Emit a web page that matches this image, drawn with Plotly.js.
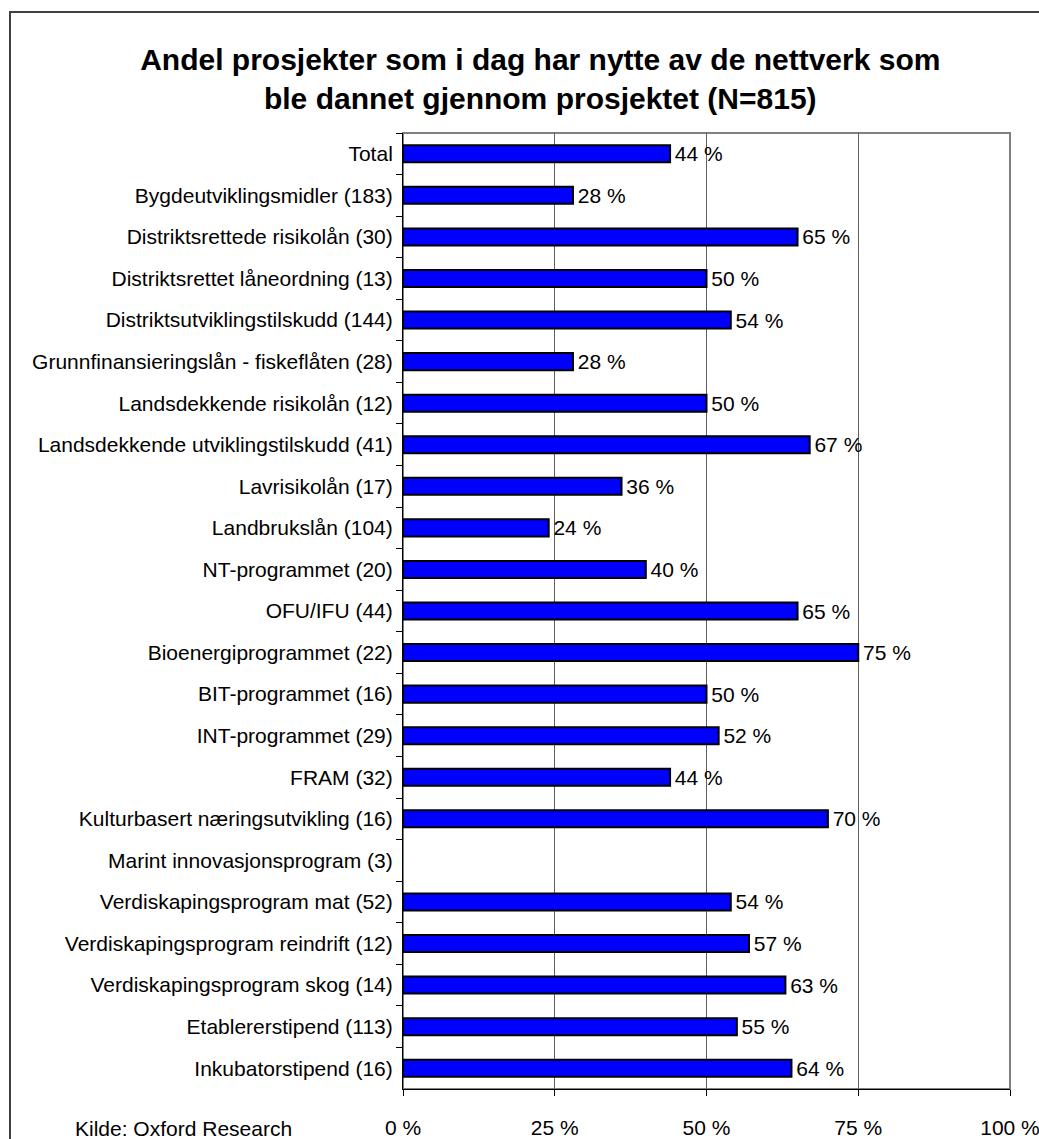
<!DOCTYPE html>
<html>
<head>
<meta charset="utf-8">
<script src="https://cdn.plot.ly/plotly-3.0.1.min.js"></script>
<style>
  html, body { margin: 0; padding: 0; background: #fff; overflow: hidden; }
  #frame { position: absolute; left: 9px; top: 11px; width: 1100px; height: 1200px;
           border: 2px solid #404040; box-sizing: border-box; pointer-events: none; }
  #chart { position: absolute; left: 0; top: 0; width: 1039px; height: 1139px; }
</style>
</head>
<body>
<div id="chart"></div>
<div id="frame"></div>
<script>
// programmes (number of projects in parentheses), top to bottom
const categories = [
  'Total',
  'Bygdeutviklingsmidler (183)',
  'Distriktsrettede risikolån (30)',
  'Distriktsrettet låneordning (13)',
  'Distriktsutviklingstilskudd (144)',
  'Grunnfinansieringslån - fiskeflåten (28)',
  'Landsdekkende risikolån (12)',
  'Landsdekkende utviklingstilskudd (41)',
  'Lavrisikolån (17)',
  'Landbrukslån (104)',
  'NT-programmet (20)',
  'OFU/IFU (44)',
  'Bioenergiprogrammet (22)',
  'BIT-programmet (16)',
  'INT-programmet (29)',
  'FRAM (32)',
  'Kulturbasert næringsutvikling (16)',
  'Marint innovasjonsprogram (3)',
  'Verdiskapingsprogram mat (52)',
  'Verdiskapingsprogram reindrift (12)',
  'Verdiskapingsprogram skog (14)',
  'Etablererstipend (113)',
  'Inkubatorstipend (16)'
];
// share (%) of projects that benefit from the networks today
const shares = [44, 28, 65, 50, 54, 28, 50, 67, 36, 24, 40, 65, 75, 50, 52, 44, 70, null, 54, 57, 63, 55, 64];

const xTicks = [0, 25, 50, 75, 100];
const xTickText = ['0 %', '25 %', '50 %', '75 %', '100 %'];

const FONT = 'Liberation Sans, Arial, sans-serif';
const FS = 21;

const trace = {
  type: 'bar',
  orientation: 'h',
  y: categories,
  x: shares,
  width: 0.41,
  marker: { color: '#0000FF', line: { color: '#000000', width: 2 } },
  text: shares.map(v => v == null ? '' : '\u200A' + v + ' %'),
  textposition: 'outside',
  constraintext: 'none',
  cliponaxis: false,
  textfont: { family: FONT, size: FS, color: '#000' },
  hoverinfo: 'skip'
};

const layout = {
  width: 1039,
  height: 1139,
  margin: { l: 403, r: 29, t: 133, b: 50 },
  paper_bgcolor: 'rgba(0,0,0,0)',
  plot_bgcolor: '#fff',
  showlegend: false,
  font: { family: FONT, size: FS, color: '#000' },
  title: {
    text: 'Andel prosjekter som i dag har nytte av de nettverk som<br>ble dannet gjennom prosjektet (N=815)',
    font: { family: FONT, size: 30, color: '#000', weight: 'bold' },
    x: 0.52, xanchor: 'center', y: 0.9385, yanchor: 'middle'
  },
  xaxis: {
    range: [0, 100],
    tickvals: xTicks,
    ticktext: xTickText,
    showgrid: true,
    gridcolor: '#606060',
    gridwidth: 1,
    zeroline: false,
    showline: true,
    linecolor: '#000',
    linewidth: 1,
    ticks: 'outside',
    ticklen: 6,
    tickcolor: '#000',
    ticklabelstandoff: 14,
    ticklabeloverflow: 'allow',
    tickfont: { family: FONT, size: FS, color: '#000' },
    fixedrange: true
  },
  yaxis: {
    type: 'category',
    autorange: 'reversed',
    tickson: 'boundaries',
    showgrid: false,
    showline: true,
    linecolor: '#000',
    linewidth: 1,
    ticks: 'outside',
    ticklen: 6,
    tickcolor: '#000',
    ticklabelstandoff: 5,
    tickfont: { family: FONT, size: FS, color: '#000' },
    fixedrange: true
  },
  shapes: [{
    type: 'rect', xref: 'paper', yref: 'paper', x0: 0, x1: 1, y0: 0, y1: 1,
    line: { color: '#808080', width: 2 }, layer: 'below'
  }],
  annotations: [{
    text: 'Kilde: Oxford Research',
    xref: 'paper', yref: 'paper', x: -0.543, y: -0.041,
    xanchor: 'left', yanchor: 'middle', showarrow: false,
    font: { family: FONT, size: FS, color: '#000' }
  }],
  bargap: 0.59
};

Plotly.newPlot('chart', [trace], layout, { staticPlot: true });
</script>
</body>
</html>
